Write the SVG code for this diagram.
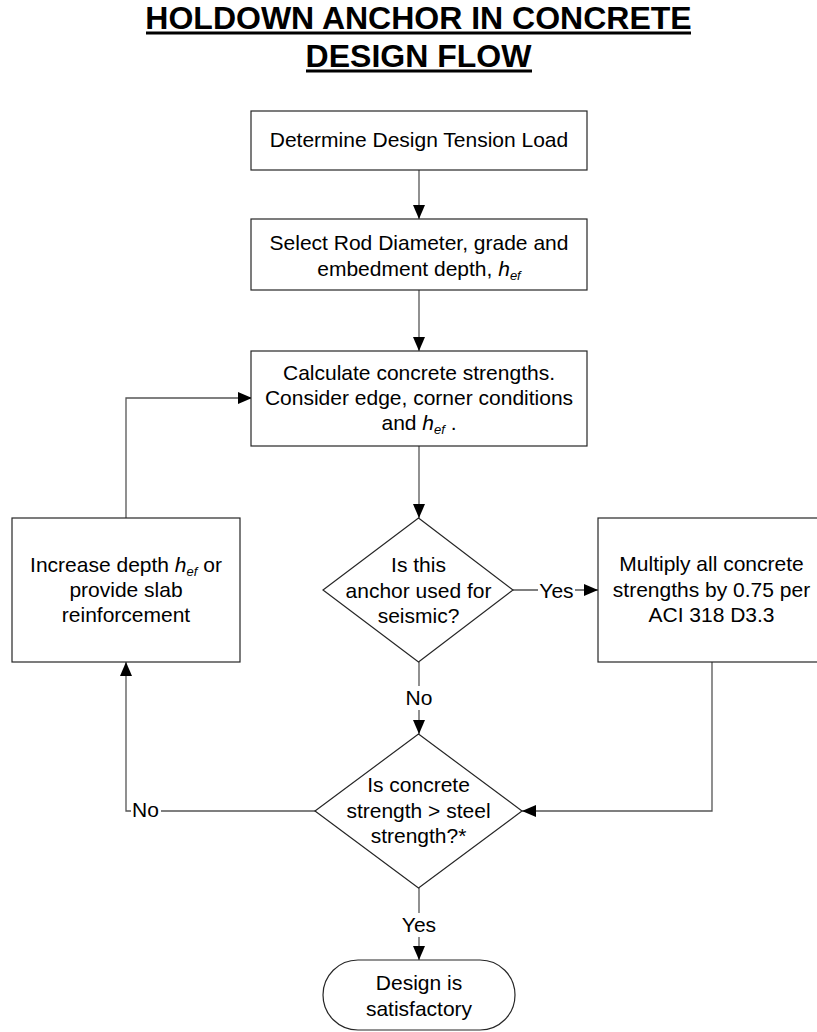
<svg xmlns="http://www.w3.org/2000/svg" width="817" height="1032" viewBox="0 0 817 1032">
  <defs>
    <marker id="arrow" markerUnits="userSpaceOnUse" markerWidth="14" markerHeight="12" refX="14" refY="6" orient="auto">
      <path d="M0,0 L14,6 L0,12 Z" fill="#000"/>
    </marker>
    <style>
      .shape { fill: #fff; stroke: #262626; stroke-width: 1.2; }
      .conn { fill: none; stroke: #555; stroke-width: 1.3; }
      .t { font-family: "Liberation Sans", Arial, sans-serif; font-size: 21px; fill: #000; text-anchor: middle; }
      .lbl { font-family: "Liberation Sans", Arial, sans-serif; font-size: 21px; fill: #000; }
      .title { font-family: "Liberation Sans", Arial, sans-serif; font-size: 32px; font-weight: bold; fill: #000; text-anchor: middle; }
      .i { font-style: italic; }
      .sub { font-style: italic; font-size: 13px; }
      .bg { fill: #fff; stroke: none; }
    </style>
  </defs>
  <rect width="817" height="1032" fill="#fff"/>

  <g id="title">
    <text class="title" x="418.5" y="29">HOLDOWN ANCHOR IN CONCRETE</text>
    <rect x="146" y="31.5" width="545" height="3" fill="#000"/>
    <text class="title" x="418.5" y="67">DESIGN FLOW</text>
    <rect x="306" y="69.5" width="226" height="3" fill="#000"/>
  </g>

  <g id="connectors">
    <path class="conn" d="M419,170 V219" marker-end="url(#arrow)"/>
    <path class="conn" d="M419,290 V351" marker-end="url(#arrow)"/>
    <path class="conn" d="M419,446 V518" marker-end="url(#arrow)"/>
    <path class="conn" d="M513,590 H598" marker-end="url(#arrow)"/>
    <path class="conn" d="M419,662 V734" marker-end="url(#arrow)"/>
    <path class="conn" d="M712,662 V811 H522" marker-end="url(#arrow)"/>
    <path class="conn" d="M315,811 H126 V662" marker-end="url(#arrow)"/>
    <path class="conn" d="M126,518 V398 H252" marker-end="url(#arrow)"/>
    <path class="conn" d="M419,888 V960" marker-end="url(#arrow)"/>
    <g id="labels">
      <rect class="bg" x="538" y="580" width="37" height="22"/>
      <text class="lbl" x="556.5" y="598" text-anchor="middle">Yes</text>
      <rect class="bg" x="404" y="686" width="30" height="24"/>
      <text class="lbl" x="419" y="705" text-anchor="middle">No</text>
      <rect class="bg" x="400" y="913" width="38" height="24"/>
      <text class="lbl" x="419" y="932" text-anchor="middle">Yes</text>
      <rect class="bg" x="131" y="800" width="30" height="22"/>
      <text class="lbl" x="132" y="817">No</text>
    </g>
  </g>

  <g id="n1">
    <rect class="shape" x="251" y="111" width="336" height="59"/>
    <text class="t" x="419" y="147">Determine Design Tension Load</text>
  </g>

  <g id="n2">
    <rect class="shape" x="251" y="219" width="336" height="71"/>
    <text class="t" x="419" y="250">Select Rod Diameter, grade and</text>
    <text class="t" x="419" y="276">embedment depth, <tspan class="i">h</tspan><tspan class="sub" dy="4">ef</tspan></text>
  </g>

  <g id="n3">
    <rect class="shape" x="251" y="351" width="336" height="95"/>
    <text class="t" x="419" y="380">Calculate concrete strengths.</text>
    <text class="t" x="419" y="405">Consider edge, corner conditions</text>
    <text class="t" x="419" y="430">and <tspan class="i">h</tspan><tspan class="sub" dy="4">ef</tspan><tspan dy="-4"> .</tspan></text>
  </g>

  <g id="n4">
    <polygon class="shape" points="418.5,518 513,590 418.5,662 323,590"/>
    <text class="t" x="418.5" y="572">Is this</text>
    <text class="t" x="418.5" y="598">anchor used for</text>
    <text class="t" x="418.5" y="623">seismic?</text>
  </g>

  <g id="n5">
    <rect class="shape" x="598" y="518" width="228" height="144"/>
    <text class="t" x="711.5" y="571">Multiply all concrete</text>
    <text class="t" x="711.5" y="597">strengths by 0.75 per</text>
    <text class="t" x="711.5" y="622">ACI 318 D3.3</text>
  </g>

  <g id="n6">
    <rect class="shape" x="12" y="518" width="228" height="144"/>
    <text class="t" x="126" y="572">Increase depth <tspan class="i">h</tspan><tspan class="sub" dy="4">ef</tspan><tspan dy="-4"> or</tspan></text>
    <text class="t" x="126" y="597">provide slab</text>
    <text class="t" x="126" y="622">reinforcement</text>
  </g>

  <g id="n7">
    <polygon class="shape" points="418.5,734 522,811 418.5,888 315,811"/>
    <text class="t" x="418.5" y="792">Is concrete</text>
    <text class="t" x="418.5" y="818">strength &gt; steel</text>
    <text class="t" x="418.5" y="843">strength?*</text>
  </g>

  <g id="n8">
    <rect class="shape" x="323" y="960" width="192" height="70" rx="35" ry="35"/>
    <text class="t" x="419" y="990">Design is</text>
    <text class="t" x="419" y="1016">satisfactory</text>
  </g>
</svg>
